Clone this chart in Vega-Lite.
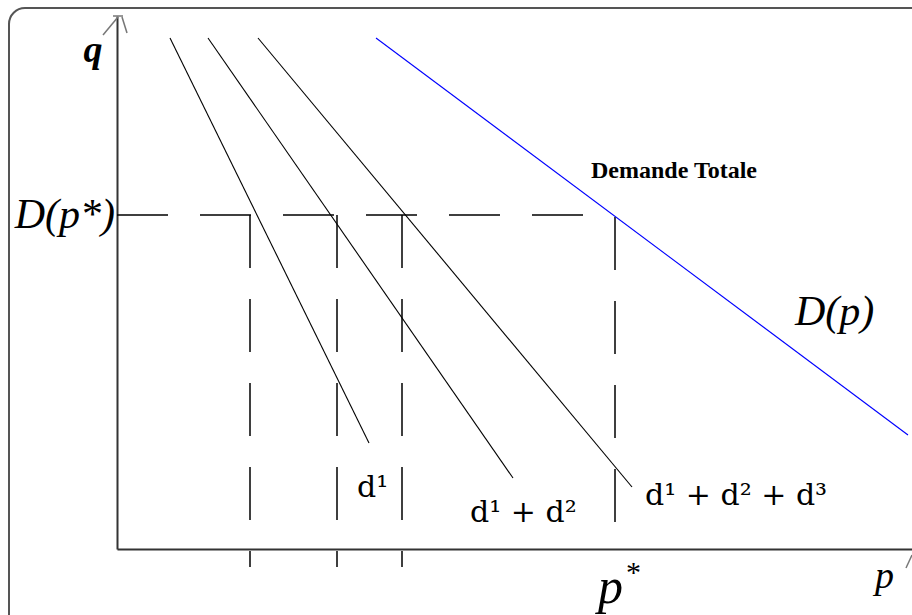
{
  "$schema": "https://vega.github.io/schema/vega-lite/v6.json",
  "autosize": {"type": "none"},
  "padding": {"left": 117, "top": 16, "right": 0, "bottom": 66},
  "width": 795,
  "height": 533,
  "background": "white",
  "config": {"view": {"stroke": null}},
  "datasets": {
    "curves": [
      {"series": "d1", "p": 53, "q": 511},
      {"series": "d1", "p": 252, "q": 106},
      {"series": "d1+d2", "p": 91, "q": 511},
      {"series": "d1+d2", "p": 396, "q": 71},
      {"series": "d1+d2+d3", "p": 141, "q": 511},
      {"series": "d1+d2+d3", "p": 515, "q": 62},
      {"series": "Demande Totale", "p": 259, "q": 511},
      {"series": "Demande Totale", "p": 791, "q": 114}
    ],
    "vguides": [
      {"p": 133, "q": 334, "q2": -18},
      {"p": 220, "q": 334, "q2": -18},
      {"p": 285, "q": 334, "q2": -18},
      {"p": 498, "q": 332, "q2": 19}
    ],
    "hguides": [
      {"p": 0, "p2": 471, "q": 334}
    ],
    "frame": [
      {"p": -108, "p2": 830, "q": 541, "q2": -90}
    ],
    "arrows": [
      {"p": 1, "p2": -14, "q": 532, "q2": 514},
      {"p": 5, "p2": 10, "q": 532, "q2": 516},
      {"p": -4, "p2": 6, "q": 533, "q2": 533},
      {"p": 795, "p2": 789, "q": -6, "q2": -19}
    ],
    "labels": [
      {"id": "q", "label": "q", "p": -24, "q": 487},
      {"id": "Dpstar", "label": "D(p*)", "p": -2, "q": 321},
      {"id": "pstar", "label": "p", "p": 481, "q": -54},
      {"id": "star", "label": "*", "p": 509, "q": -9},
      {"id": "p", "label": "p", "p": 758, "q": -39},
      {"id": "Dp", "label": "D(p)", "p": 678, "q": 224},
      {"id": "total", "label": "Demande Totale", "p": 474, "q": 371},
      {"id": "d1", "label": "d¹", "p": 240, "q": 52},
      {"id": "d12", "label": "d¹ + d²", "p": 353, "q": 27},
      {"id": "d123", "label": "d¹ + d² + d³", "p": 528, "q": 44}
    ]
  },
  "encoding": {
    "x": {"field": "p", "type": "quantitative",
          "scale": {"domain": [0, 795], "nice": false, "zero": false},
          "axis": {"domain": true, "ticks": false, "labels": false, "grid": false, "title": null, "domainColor": "#333", "domainWidth": 2}},
    "y": {"field": "q", "type": "quantitative",
          "scale": {"domain": [0, 533], "nice": false, "zero": false},
          "axis": {"domain": true, "ticks": false, "labels": false, "grid": false, "title": null, "domainColor": "#333", "domainWidth": 2}}
  },
  "layer": [
    {
      "data": {"name": "frame"},
      "mark": {"type": "rect", "filled": false, "stroke": "#555", "strokeWidth": 2, "cornerRadius": 16},
      "encoding": {"x2": {"field": "p2"}, "y2": {"field": "q2"}}
    },
    {
      "data": {"name": "arrows"},
      "mark": {"type": "rule", "stroke": "#777", "strokeWidth": 1.5},
      "encoding": {"x2": {"field": "p2"}, "y2": {"field": "q2"}}
    },
    {
      "data": {"name": "hguides"},
      "mark": {"type": "rule", "stroke": "black", "strokeWidth": 1.5, "strokeDash": [51, 32]},
      "encoding": {"x2": {"field": "p2"}}
    },
    {
      "data": {"name": "vguides"},
      "mark": {"type": "rule", "stroke": "black", "strokeWidth": 1.5, "strokeDash": [53, 31]},
      "encoding": {"y2": {"field": "q2"}}
    },
    {
      "data": {"name": "curves"},
      "mark": {"type": "line", "strokeWidth": 1.1},
      "encoding": {
        "detail": {"field": "series"},
        "color": {"field": "series", "type": "nominal", "legend": null,
                  "scale": {"domain": ["d1", "d1+d2", "d1+d2+d3", "Demande Totale"], "range": ["black", "black", "black", "#0000ff"]}}
      }
    },
    {
      "data": {"name": "labels"},
      "transform": [{"filter": "datum.id === 'q'"}],
      "mark": {"type": "text", "font": "Liberation Serif", "fontStyle": "italic", "fontWeight": "bold", "fontSize": 38, "align": "center", "baseline": "alphabetic", "color": "black"},
      "encoding": {"text": {"field": "label"}}
    },
    {
      "data": {"name": "labels"},
      "transform": [{"filter": "datum.id === 'Dpstar'"}],
      "mark": {"type": "text", "font": "Liberation Serif", "fontStyle": "italic", "fontSize": 42, "align": "right", "baseline": "alphabetic", "color": "black"},
      "encoding": {"text": {"field": "label"}}
    },
    {
      "data": {"name": "labels"},
      "transform": [{"filter": "datum.id === 'pstar'"}],
      "mark": {"type": "text", "font": "Liberation Serif", "fontStyle": "italic", "fontSize": 50, "align": "left", "baseline": "alphabetic", "color": "black"},
      "encoding": {"text": {"field": "label"}}
    },
    {
      "data": {"name": "labels"},
      "transform": [{"filter": "datum.id === 'star'"}],
      "mark": {"type": "text", "font": "Liberation Serif", "fontSize": 30, "align": "left", "baseline": "top", "color": "black"},
      "encoding": {"text": {"field": "label"}}
    },
    {
      "data": {"name": "labels"},
      "transform": [{"filter": "datum.id === 'p'"}],
      "mark": {"type": "text", "font": "Liberation Serif", "fontStyle": "italic", "fontSize": 38, "align": "left", "baseline": "alphabetic", "color": "black"},
      "encoding": {"text": {"field": "label"}}
    },
    {
      "data": {"name": "labels"},
      "transform": [{"filter": "datum.id === 'Dp'"}],
      "mark": {"type": "text", "font": "Liberation Serif", "fontStyle": "italic", "fontSize": 42, "align": "left", "baseline": "alphabetic", "color": "black"},
      "encoding": {"text": {"field": "label"}}
    },
    {
      "data": {"name": "labels"},
      "transform": [{"filter": "datum.id === 'total'"}],
      "mark": {"type": "text", "font": "Liberation Serif", "fontWeight": "bold", "fontSize": 24, "align": "left", "baseline": "alphabetic", "color": "black"},
      "encoding": {"text": {"field": "label"}}
    },
    {
      "data": {"name": "labels"},
      "transform": [{"filter": "datum.id === 'd1' || datum.id === 'd12' || datum.id === 'd123'"}],
      "mark": {"type": "text", "font": "DejaVu Serif", "fontSize": 30, "align": "left", "baseline": "alphabetic", "color": "black"},
      "encoding": {"text": {"field": "label"}}
    }
  ]
}
